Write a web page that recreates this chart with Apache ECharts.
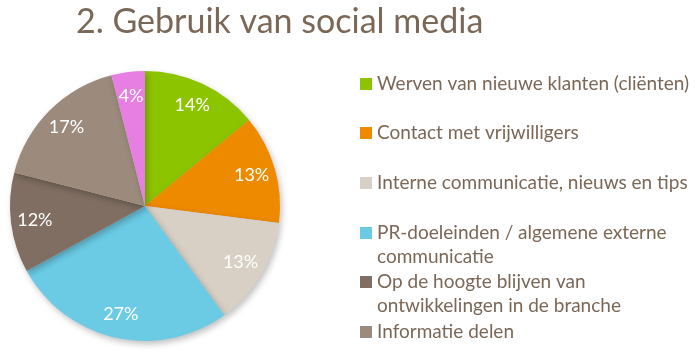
<!DOCTYPE html>
<html><head><meta charset="utf-8">
<script src="https://cdn.jsdelivr.net/npm/echarts@6/dist/echarts.min.js"></script>
<style>html,body{margin:0;padding:0;background:#fff}#c{width:700px;height:359px}</style>
</head><body><div id="c"></div>
<script>
var categories = ['Werven van nieuwe klanten (cliënten)', 'Contact met vrijwilligers', 'Interne communicatie, nieuws en tips', 'PR-doeleinden / algemene externe communicatie', 'Op de hoogte blijven van ontwikkelingen in de branche', 'Informatie delen', 'Anders'];
var legendLines = [['Werven van nieuwe klanten (cliënten)'], ['Contact met vrijwilligers'], ['Interne communicatie, nieuws en tips'], ['PR-doeleinden / algemene externe', 'communicatie'], ['Op de hoogte blijven van', 'ontwikkelingen in de branche'], ['Informatie delen']];
var values = [14, 13, 13, 27, 12, 17, 4];
var colors = ['#8dc400', '#ee8a00', '#d8d0c5', '#6bcbe5', '#7f6e61', '#9c8b7c', '#e77fe3'];
var legendTops = [72, 121, 171, 221, 270, 320];

var font = 'Lato, "Open Sans", sans-serif';
var brown = '#7b6756';
var data = categories.map(function (c, i) { return { name: c, value: values[i], itemStyle: { color: colors[i] } }; });

var legends = [];
legendLines.forEach(function (lines, i) {
  lines.forEach(function (line, j) {
    legends.push({
      data: [j === 0 ? categories[i] : { name: categories[i], icon: 'none' }],
      left: 360, top: legendTops[i] + j * 24,
      orient: 'vertical',
      icon: 'rect', itemWidth: 12, itemHeight: 12, itemGap: 4,
      padding: 0,
      formatter: function () { return line; },
      textStyle: { color: brown, fontSize: 19, fontFamily: font, lineHeight: 24 },
      selectedMode: false
    });
  });
});

var chart = echarts.init(document.getElementById('c'), null, { renderer: 'canvas' });
chart.setOption({
  animation: false,
  title: { text: '2. Gebruik van social media', left: 71, top: 0,
    textStyle: { color: brown, fontSize: 34, fontWeight: 'normal', fontFamily: font } },
  legend: legends,
  series: [
    { type: 'pie', center: [145, 206], radius: [0, 135], startAngle: 90, clockwise: true,
      data: data, label: { show: false }, labelLine: { show: false }, silent: true,
      itemStyle: { borderWidth: 0, shadowBlur: 6, shadowOffsetX: 2, shadowOffsetY: 3, shadowColor: 'rgba(0,0,0,0.25)' } },
    { type: 'pie', center: [145, 206], radius: [81, 135], startAngle: 90, clockwise: true,
      data: categories.map(function (c, i) { return { name: c, value: values[i] }; }),
      itemStyle: { color: 'rgba(0,0,0,0)', borderWidth: 0 }, silent: true,
      label: { show: true, position: 'inside', formatter: '{c}%', color: '#fff', fontSize: 18,
        fontFamily: font, textBorderWidth: 0 },
      labelLine: { show: false } }
  ]
});
</script></body></html>
